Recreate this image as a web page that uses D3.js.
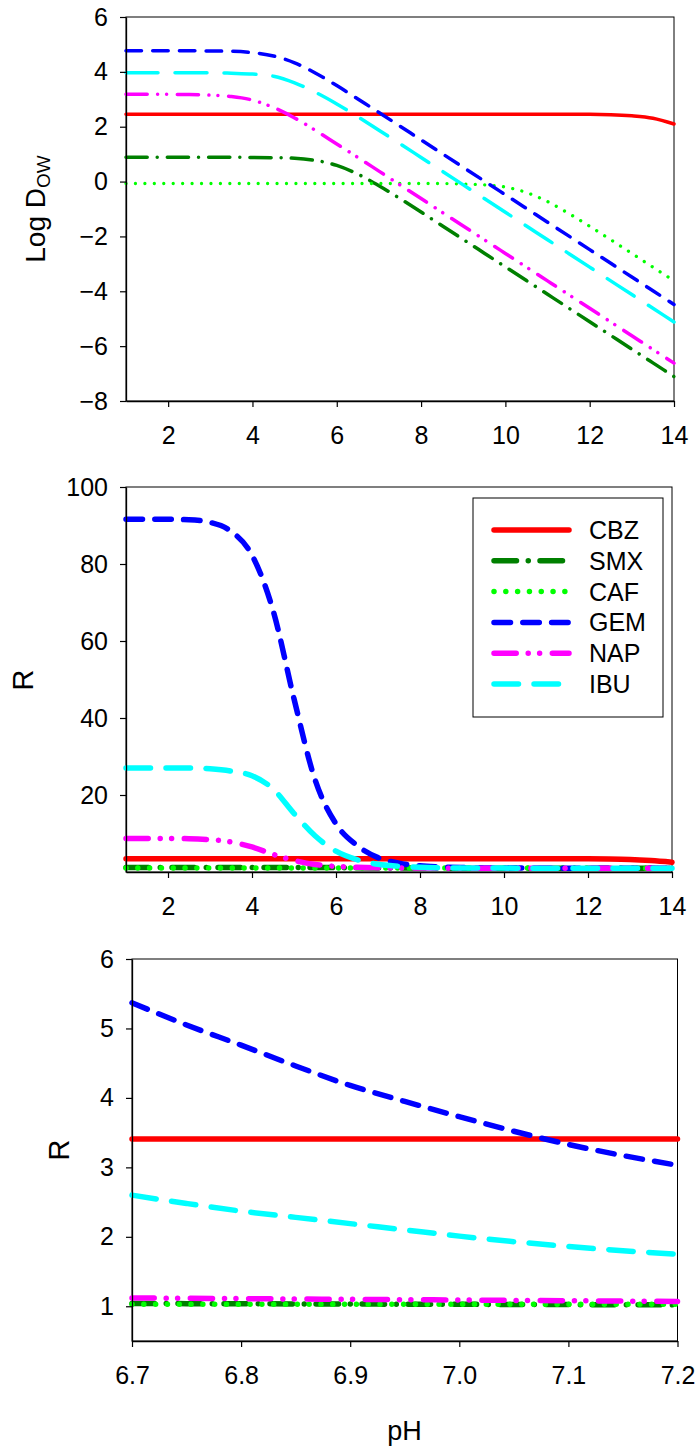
<!DOCTYPE html>
<html>
<head>
<meta charset="utf-8">
<script src="https://cdn.jsdelivr.net/npm/d3@7"></script>
<style>
  body { margin: 0; background: #fff; }
  svg text { font-family: "Liberation Sans", Arial, Helvetica, sans-serif; fill: #000; }
</style>
</head>
<body>
<svg id="chart" width="696" height="1447"></svg>
<script>
// ---- data -------------------------------------------------------------
const compounds = ["CBZ", "SMX", "CAF", "GEM", "NAP", "IBU"];

// pH grid for the two full-range panels
const pH = [1, 1.5, 2, 2.5, 3, 3.5, 4, 4.5, 5, 5.5, 6, 6.5, 7, 7.5, 8, 8.5, 9, 9.5, 10, 10.5, 11, 11.5, 12, 12.5, 13, 13.5, 14];

// Log Dow vs pH
const logD_CBZ = [2.45, 2.45, 2.45, 2.45, 2.45, 2.45, 2.45, 2.45, 2.45, 2.45, 2.45, 2.45, 2.45, 2.45, 2.45, 2.45, 2.45, 2.45, 2.45, 2.45, 2.45, 2.45, 2.45, 2.44, 2.40, 2.31, 2.10];
const logD_SMX = [0.89, 0.89, 0.89, 0.89, 0.89, 0.89, 0.88, 0.87, 0.85, 0.77, 0.59, 0.27, -0.15, -0.62, -1.11, -1.61, -2.11, -2.61, -3.11, -3.61, -4.11, -4.61, -5.11, -5.61, -6.11, -6.61, -7.11];
const logD_CAF = [-0.07, -0.07, -0.07, -0.07, -0.07, -0.07, -0.07, -0.07, -0.07, -0.07, -0.07, -0.07, -0.07, -0.07, -0.07, -0.07, -0.09, -0.12, -0.20, -0.40, -0.73, -1.16, -1.63, -2.12, -2.62, -3.12, -3.62];
const logD_GEM = [4.77, 4.77, 4.77, 4.77, 4.76, 4.75, 4.70, 4.58, 4.33, 3.95, 3.50, 3.01, 2.52, 2.02, 1.52, 1.02, 0.52, 0.02, -0.48, -0.98, -1.48, -1.98, -2.48, -2.98, -3.48, -3.98, -4.48];
const logD_NAP = [3.18, 3.18, 3.18, 3.17, 3.15, 3.10, 2.97, 2.70, 2.32, 1.86, 1.37, 0.88, 0.38, -0.12, -0.62, -1.12, -1.62, -2.12, -2.62, -3.12, -3.62, -4.12, -4.62, -5.12, -5.62, -6.12, -6.62];
const logD_IBU = [3.97, 3.97, 3.97, 3.97, 3.97, 3.95, 3.92, 3.84, 3.60, 3.25, 2.83, 2.36, 1.87, 1.38, 0.88, 0.38, -0.12, -0.62, -1.12, -1.62, -2.12, -2.62, -3.12, -3.62, -4.12, -4.62, -5.12];

// R vs pH (full range)
const R_CBZ = [3.41, 3.41, 3.41, 3.41, 3.41, 3.41, 3.41, 3.41, 3.41, 3.41, 3.41, 3.41, 3.41, 3.41, 3.41, 3.41, 3.41, 3.41, 3.41, 3.41, 3.41, 3.41, 3.41, 3.38, 3.27, 2.98, 2.55];
const R_SMX = [1.20, 1.20, 1.20, 1.20, 1.20, 1.20, 1.20, 1.20, 1.19, 1.17, 1.13, 1.08, 1.04, 1.02, 1.01, 1.00, 1.00, 1.00, 1.00, 1.00, 1.00, 1.00, 1.00, 1.00, 1.00, 1.00, 1.00];
const R_CAF = [1.05, 1.05, 1.05, 1.05, 1.05, 1.05, 1.05, 1.05, 1.05, 1.05, 1.05, 1.05, 1.05, 1.05, 1.05, 1.05, 1.05, 1.04, 1.04, 1.03, 1.02, 1.01, 1.00, 1.00, 1.00, 1.00, 1.00];
const R_GEM = [91.6, 91.6, 91.6, 91.5, 90.8, 88.5, 82.3, 68.0, 45.0, 24.0, 12.5, 6.9, 3.73, 2.3, 1.6, 1.3, 1.15, 1.07, 1.03, 1.02, 1.01, 1.00, 1.00, 1.00, 1.00, 1.00, 1.00];
const R_NAP = [8.7, 8.7, 8.7, 8.65, 8.4, 7.8, 6.5, 4.6, 3.0, 1.97, 1.45, 1.21, 1.10, 1.05, 1.02, 1.01, 1.00, 1.00, 1.00, 1.00, 1.00, 1.00, 1.00, 1.00, 1.00, 1.00, 1.00];
const R_IBU = [27.0, 27.0, 27.0, 27.0, 26.8, 26.2, 25.0, 21.6, 15.2, 9.4, 5.4, 3.2, 2.0, 1.5, 1.22, 1.10, 1.05, 1.02, 1.01, 1.00, 1.00, 1.00, 1.00, 1.00, 1.00, 1.00, 1.00];

// R vs pH, narrow range 6.7 - 7.2
const pHNarrow = [6.70, 6.75, 6.80, 6.85, 6.90, 6.95, 7.00, 7.05, 7.10, 7.15, 7.20];
const Rn_CBZ = [3.41, 3.41, 3.41, 3.41, 3.41, 3.41, 3.41, 3.41, 3.41, 3.41, 3.41];
const Rn_SMX = [1.040, 1.038, 1.036, 1.034, 1.032, 1.030, 1.028, 1.026, 1.024, 1.022, 1.020];
const Rn_CAF = [1.03, 1.03, 1.03, 1.03, 1.03, 1.03, 1.03, 1.03, 1.03, 1.03, 1.03];
const Rn_GEM = [5.37, 5.05, 4.76, 4.46, 4.18, 3.95, 3.73, 3.52, 3.33, 3.17, 3.03];
const Rn_NAP = [1.120, 1.115, 1.110, 1.105, 1.100, 1.095, 1.090, 1.085, 1.080, 1.075, 1.070];
const Rn_IBU = [2.60, 2.48, 2.37, 2.28, 2.19, 2.10, 2.01, 1.93, 1.86, 1.80, 1.75];

// axis ticks
const ticksLogD = [-8, -6, -4, -2, 0, 2, 4, 6];
const ticksR = [20, 40, 60, 80, 100];
const ticksRNarrow = [1, 2, 3, 4, 5, 6];
const ticksPH = [2, 4, 6, 8, 10, 12, 14];
const ticksPHNarrow = [6.7, 6.8, 6.9, 7.0, 7.1, 7.2];

// ---- styles -----------------------------------------------------------
const colors = { CBZ: "#ff0000", SMX: "#008000", CAF: "#00ff00", GEM: "#0000ff", NAP: "#ff00ff", IBU: "#00ffff" };
const dashThin = {
  CBZ: null, SMX: "21.2 10 0.01 10.1", CAF: "0.01 9.43",
  GEM: "15.5 11.2", NAP: "21.2 10.4 0.01 9 0.01 10.7", IBU: "32 17"
};
const dashThick = {
  CBZ: null, SMX: "22.5 11.75 0.01 11.75", CAF: "0.01 11.8",
  GEM: "16.5 12.3", NAP: "22.2 12 0.01 11.4 0.01 12.7", IBU: "24.5 15.5"
};

const svg = d3.select("#chart");
const TICK_FONT = 25;
const intFmt = d3.format("d");

function drawPanel(cfg) {
  const { left, right, top, bottom, xDomain, yDomain, xTicks, yTicks, xFmt,
          xs, ys, dash, width, capDot } = cfg;
  const x = d3.scaleLinear().domain(xDomain).range([left, right]);
  const y = d3.scaleLinear().domain(yDomain).range([bottom, top]);
  const g = svg.append("g");

  // frame (top and right edges)
  g.append("rect")
    .attr("x", left).attr("y", top)
    .attr("width", right - left).attr("height", bottom - top)
    .attr("fill", "none").attr("stroke", "#000").attr("stroke-width", 1);

  // data lines, drawn in legend order
  const line = d3.line().curve(d3.curveMonotoneX);
  compounds.forEach(name => {
    const vals = ys[name];
    const pts = xs.map((v, i) => [x(v), y(vals[i])]);
    const p = g.append("path")
      .attr("d", line(pts))
      .attr("fill", "none")
      .attr("stroke", colors[name])
      .attr("stroke-width", name === "CAF" && capDot ? capDot : width)
      .attr("stroke-linecap", "round")
      .attr("stroke-linejoin", "round");
    if (dash[name]) p.attr("stroke-dasharray", dash[name]);
  });

  // axes
  const yAxis = d3.axisLeft(y).tickValues(yTicks).tickFormat(intFmt)
    .tickSize(6).tickSizeOuter(0).tickPadding(12);
  const xAxis = d3.axisBottom(x).tickValues(xTicks).tickFormat(xFmt || intFmt)
    .tickSize(6).tickSizeOuter(0).tickPadding(19);

  const ya = g.append("g").attr("transform", `translate(${left},0)`).call(yAxis);
  const xa = g.append("g").attr("transform", `translate(0,${bottom})`).call(xAxis);
  [ya, xa].forEach(a => {
    a.selectAll("text")
      .style("font-family", '"Liberation Sans", Arial, sans-serif')
      .style("font-size", TICK_FONT + "px")
      .attr("fill", "#000");
    a.selectAll("line").attr("stroke", "#000").attr("stroke-width", 1.2);
    a.select(".domain").attr("stroke", "#000").attr("stroke-width", 1.3);
  });
  return { x, y, g };
}

// ---- panel 1 : Log Dow ------------------------------------------------
drawPanel({
  left: 126, right: 674, top: 17, bottom: 401,
  xDomain: [1, 14], yDomain: [-8, 6],
  xTicks: ticksPH, yTicks: ticksLogD,
  xs: pH,
  ys: { CBZ: logD_CBZ, SMX: logD_SMX, CAF: logD_CAF, GEM: logD_GEM, NAP: logD_NAP, IBU: logD_IBU },
  dash: dashThin, width: 3.5, capDot: 3.3
});

const t1 = svg.append("text")
  .attr("transform", "translate(45,209) rotate(-90)")
  .attr("text-anchor", "middle")
  .style("font-size", "28px");
t1.append("tspan").text("Log D");
t1.append("tspan").attr("dy", 5).style("font-size", "19px").text("OW");

// ---- panel 2 : R over full pH range -----------------------------------
drawPanel({
  left: 126, right: 672, top: 487, bottom: 872,
  xDomain: [1, 14], yDomain: [0, 100],
  xTicks: ticksPH, yTicks: ticksR,
  xs: pH,
  ys: { CBZ: R_CBZ, SMX: R_SMX, CAF: R_CAF, GEM: R_GEM, NAP: R_NAP, IBU: R_IBU },
  dash: dashThick, width: 5.5
});

svg.append("text")
  .attr("transform", "translate(33,680) rotate(-90)")
  .attr("text-anchor", "middle")
  .style("font-size", "29px")
  .text("R");

// legend
const leg = svg.append("g");
leg.append("rect")
  .attr("x", 473).attr("y", 498).attr("width", 190).attr("height", 219)
  .attr("fill", "#fff").attr("stroke", "#000").attr("stroke-width", 1);
compounds.forEach((name, i) => {
  const cy = 530 + i * 30.8;
  const l = leg.append("line")
    .attr("x1", 494).attr("x2", 569).attr("y1", cy).attr("y2", cy)
    .attr("stroke", colors[name]).attr("stroke-width", 5.5)
    .attr("stroke-linecap", "round");
  if (dashThick[name]) l.attr("stroke-dasharray", dashThick[name]);
  leg.append("text")
    .attr("x", 589).attr("y", cy).attr("dy", "0.36em")
    .style("font-size", "25px")
    .text(name);
});

// ---- panel 3 : R over pH 6.7 - 7.2 ------------------------------------
drawPanel({
  left: 132, right: 677.5, top: 959, bottom: 1341,
  xDomain: [6.7, 7.2], yDomain: [0.5, 6],
  xTicks: ticksPHNarrow, yTicks: ticksRNarrow, xFmt: d3.format(".1f"),
  xs: pHNarrow,
  ys: { CBZ: Rn_CBZ, SMX: Rn_SMX, CAF: Rn_CAF, GEM: Rn_GEM, NAP: Rn_NAP, IBU: Rn_IBU },
  dash: dashThick, width: 5.5
});

svg.append("text")
  .attr("transform", "translate(69,1150) rotate(-90)")
  .attr("text-anchor", "middle")
  .style("font-size", "29px")
  .text("R");

svg.append("text")
  .attr("x", 404.5).attr("y", 1440)
  .attr("text-anchor", "middle")
  .style("font-size", "27px")
  .text("pH");
</script>
</body>
</html>
